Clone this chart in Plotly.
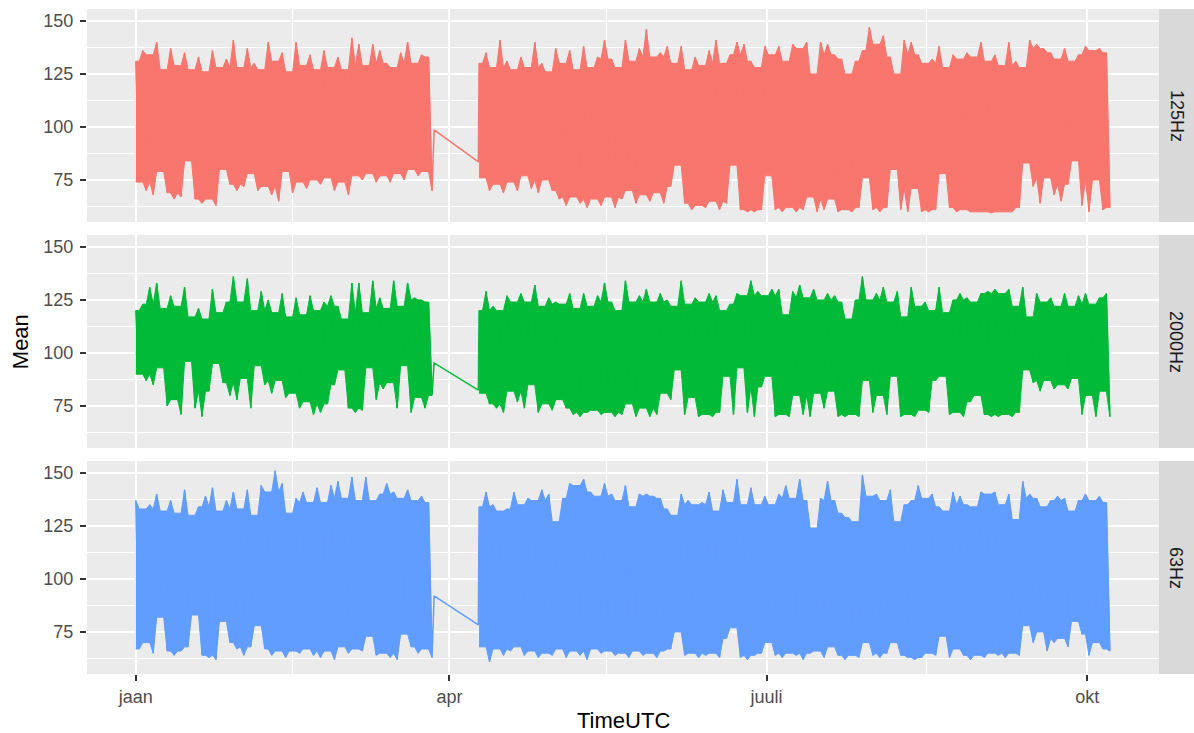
import numpy as np
import pandas as pd
import plotly.graph_objects as go

# ---------------- data ----------------
BASE_DATE = "2018-01-01"
SEG1_FIRST_DAY = 0.0      # first sample day of the first run
SEG2_FIRST_DAY = 98.5     # first sample day of the second run
SAMPLE_STEP = 2.0         # days between successive peak (or trough) samples
BRIDGE_DAYS = [85.6, 98.3]

panels = ["125Hz", "2000Hz", "63Hz"]
colors = ["#F8766D", "#00BA38", "#619CFF"]

tick_dates = ["2018-01-01", "2018-04-01", "2018-07-01", "2018-10-01"]
tick_text = ["jaan", "apr", "juuli", "okt"]
minor_dates = ["2018-02-15", "2018-05-16", "2018-08-16"]
y_ticks = [75, 100, 125, 150]
y_minor = [62.5, 87.5, 112.5, 137.5]

# 125Hz
hi_125_s1 = [131,136,134,140,127,137,129,135,127,133,126,136,128,132,141,128,137,130,127,140,
             131,135,126,140,129,134,127,136,128,133,127,142,139,129,139,136,130,128,135,140,
             130,134,133]
lo_125_s1 = [74,70,68,79,69,66,67,84,66,64,66,63,80,73,70,72,78,70,72,68,
             65,79,69,74,71,75,73,76,70,74,68,77,75,78,74,77,74,78,75,80,
             77,79,70]
hi_125_s2 = [130,135,128,141,131,127,133,128,140,130,126,137,130,136,127,138,128,133,141,132,
             128,141,131,137,146,133,135,138,130,138,127,133,129,136,141,130,134,140,139,131,
             128,138,134,138,131,139,137,140,125,140,139,134,132,125,131,136,147,139,143,133,
             125,141,140,134,130,132,138,128,134,132,135,133,140,131,134,129,140,131,128,141,
             139,137,135,132,137,131,134,138,136,137,135]
lo_125_s2 = [76,70,73,69,74,70,77,71,69,75,70,66,63,67,64,62,66,63,67,62,
             66,70,64,68,65,69,64,72,82,64,61,63,62,65,61,64,82,61,60,60,
             61,77,61,60,62,60,61,67,60,61,66,60,61,60,62,76,61,60,62,80,
             61,60,71,60,60,61,78,62,60,61,60,60,60,59.5,60,60,60,62,83,72,
             64,76,68,65,73,84,63,60,75,61,62]
bridge_125 = [98.6, 83.5]

# 2000Hz
hi_2000_s1 = [120,123,131,133,121,127,122,131,117,121,116,130,119,124,136,124,135,120,129,125,
              119,128,117,126,118,127,120,124,127,122,116,133,133,119,134,126,121,134,122,133,
              126,125,124]
lo_2000_s1 = [90,87,85,93,75,78,71,96,74,70,82,95,86,80,78,88,74,94,85,81,
              87,79,81,74,77,71,72,76,85,92,74,72,73,93,78,83,86,74,94,72,
              79,74,80]
hi_2000_s2 = [120,129,122,120,127,124,128,124,132,122,126,124,123,128,121,128,122,127,133,124,
              120,134,124,127,130,124,128,125,122,134,123,126,124,128,127,120,123,128,127,134,
              129,127,130,130,118,129,132,126,130,125,128,127,124,116,125,136,125,128,131,124,
              129,117,131,122,124,120,131,119,125,128,126,124,128,129,130,128,130,122,131,117,
              128,124,126,122,128,122,127,128,123,126,128]
lo_2000_s2 = [81,76,74,72,82,77,74,85,72,76,73,78,74,71,70,72,73,71,72,70,
              71,76,70,74,70,71,81,78,92,71,79,70,71,70,72,89,71,93,72,70,
              84,89,70,71,70,80,71,70,81,74,82,70,70,71,70,87,72,80,71,89,
              70,71,70,73,72,87,89,71,72,70,77,80,71,70,70,71,70,72,92,86,
              82,87,83,85,83,88,71,80,70,82,70]
bridge_2000 = [95.3, 82.5]

# 63Hz
hi_63_s1 = [137,133,135,140,132,137,131,142,130,134,139,143,132,137,141,133,142,130,144,141,
            151,145,131,138,141,136,143,136,144,146,138,148,137,148,137,140,145,141,138,142,
            137,139,136]
lo_63_s1 = [67,70,65,82,66,64,66,68,83,64,63,62,80,70,67,64,68,78,67,64,
            66,63,66,65,67,64,63,66,62,68,65,67,66,73,64,65,63,62,74,68,
            65,67,63]
hi_63_s2 = [134,141,135,132,133,141,135,138,137,142,140,127,138,145,144,147,141,139,145,140,
            137,144,134,140,140,139,138,133,130,140,137,135,136,141,132,142,136,147,135,143,
            135,139,135,140,144,138,147,137,124,138,146,137,131,129,127,149,139,140,137,142,
            127,135,137,144,138,140,134,132,141,139,135,134,141,140,141,135,140,128,146,140,
            138,134,137,139,138,132,137,140,137,139,136]
lo_63_s2 = [68,61,67,64,66,68,64,66,63,65,64,67,63,66,64,62,67,65,66,64,
            65,63,66,64,65,63,66,67,75,64,65,63,64,65,63,72,77,63,62,64,
            65,70,64,63,65,64,62,65,66,63,68,64,62,64,63,70,64,63,65,70,
            64,63,62,63,65,64,73,63,67,64,62,64,63,65,64,63,65,64,78,70,
            75,66,70,72,68,80,74,64,70,67,66]
bridge_63 = [92.0, 78.3]

# ---------------- helpers ----------------
base = pd.Timestamp(BASE_DATE)


def to_date(days):
    return [(base + pd.to_timedelta(float(d), unit="D")).strftime("%Y-%m-%d %H:%M:%S") for d in days]


def segment(first_day, hi, lo):
    n = min(len(hi), len(lo))
    hi, lo = hi[:n], lo[:n]
    hi_days = [first_day + SAMPLE_STEP * k for k in range(n)]
    lo_days = [d + SAMPLE_STEP / 2 for d in hi_days]
    # line through the samples (peak, trough, peak, ...)
    zz_days, zz_vals = [], []
    for a, b, c, d in zip(hi_days, hi, lo_days, lo):
        zz_days += [a, c]
        zz_vals += [b, d]
    # solid band: peaks on top, troughs below, with the inner level between them
    top_d, top_v = [], []
    for k in range(n):
        top_d.append(hi_days[k]); top_v.append(hi[k])
        if k < n - 1:
            w = sorted(hi[max(0, k - 1):k + 3])
            top_d.append(lo_days[k]); top_v.append(min(hi[k], hi[k + 1], w[1]))
    bot_d, bot_v = [hi_days[0]], [lo[0]]
    for k in range(n):
        if k > 0:
            w = sorted(lo[max(0, k - 2):k + 2], reverse=True)
            bot_d.append(hi_days[k]); bot_v.append(max(lo[k - 1], lo[k], w[1]))
        bot_d.append(lo_days[k]); bot_v.append(lo[k])
    poly_days = top_d + bot_d[::-1]
    poly_vals = top_v + bot_v[::-1]
    return zz_days, zz_vals, poly_days, poly_vals


series = [
    (hi_125_s1, lo_125_s1, hi_125_s2, lo_125_s2, bridge_125),
    (hi_2000_s1, lo_2000_s1, hi_2000_s2, lo_2000_s2, bridge_2000),
    (hi_63_s1, lo_63_s1, hi_63_s2, lo_63_s2, bridge_63),
]

# ---------------- figure ----------------
W, H = 1194, 733
ML, MR, MT, MB = 87, 35, 9, 59
plot_h = H - MT - MB
px_panels = [(9, 222), (235, 448), (461, 674)]
domains = [[(H - MB - b) / plot_h, (H - MB - t) / plot_h] for t, b in px_panels]
domains[0][1] = 1.0
domains[2][0] = 0.0

fig = go.Figure()
FONT = "Liberation Sans, Arial, sans-serif"

for i, (h1, l1, h2, l2, br) in enumerate(series):
    xa = "x" if i == 0 else f"x{i+1}"
    ya = "y" if i == 0 else f"y{i+1}"
    z1d, z1v, p1d, p1v = segment(SEG1_FIRST_DAY, h1, l1)
    z2d, z2v, p2d, p2v = segment(SEG2_FIRST_DAY, h2, l2)
    for pd_, pv in [(p1d, p1v), (p2d, p2v)]:
        fig.add_trace(go.Scatter(x=to_date(pd_), y=pv, mode="lines", fill="toself",
                                 fillcolor=colors[i], line=dict(width=1, color=colors[i]),
                                 hoverinfo="skip", showlegend=False, xaxis=xa, yaxis=ya))
    days = z1d + BRIDGE_DAYS + z2d
    vals = z1v + br + z2v
    fig.add_trace(go.Scatter(x=to_date(days), y=vals, mode="lines",
                             line=dict(color=colors[i], width=1.5),
                             name=panels[i], showlegend=False, xaxis=xa, yaxis=ya))

x_range = to_date([-14.0, 293.6])
y_range = [55.2, 155.6]

axis_common_x = dict(type="date", range=x_range, showgrid=True, gridcolor="white", gridwidth=2,
                     tickmode="array", tickvals=tick_dates, ticktext=tick_text,
                     minor=dict(tickmode="array", tickvals=minor_dates, showgrid=True,
                                gridcolor="white", gridwidth=1, ticks=""),
                     zeroline=False, showline=False, domain=[0, 1])
axis_common_y = dict(range=y_range, showgrid=True, gridcolor="white", gridwidth=2,
                     tickmode="array", tickvals=y_ticks,
                     minor=dict(tickmode="array", tickvals=y_minor, showgrid=True,
                                gridcolor="white", gridwidth=1, ticks=""),
                     zeroline=False, showline=False, ticks="outside", ticklen=6,
                     tickwidth=1.5, tickcolor="#333333",
                     tickfont=dict(family=FONT, size=18, color="#4D4D4D"),
                     ticklabelstandoff=3)

layout = dict(width=W, height=H, margin=dict(l=ML, r=MR, t=MT, b=MB),
              plot_bgcolor="#EBEBEB", paper_bgcolor="white",
              font=dict(family=FONT), showlegend=False)
for i in range(3):
    xk = "xaxis" if i == 0 else f"xaxis{i+1}"
    yk = "yaxis" if i == 0 else f"yaxis{i+1}"
    xa = dict(axis_common_x)
    xa["anchor"] = "y" if i == 0 else f"y{i+1}"
    if i < 2:
        xa.update(showticklabels=False, ticks="", matches="x3")
    else:
        xa.update(ticks="outside", ticklen=6, tickwidth=1.5, tickcolor="#333333",
                  tickfont=dict(family=FONT, size=18, color="#4D4D4D"))
    ya = dict(axis_common_y)
    ya["anchor"] = "x" if i == 0 else f"x{i+1}"
    ya["domain"] = domains[i]
    layout[xk] = xa
    layout[yk] = ya

plot_w = W - ML - MR
shapes, annotations = [], []
for i, (d0, d1) in enumerate(domains):
    shapes.append(dict(type="rect", xref="paper", yref="paper",
                       x0=1.0, x1=(W - ML) / plot_w, y0=d0, y1=d1,
                       fillcolor="#D9D9D9", line=dict(width=0), layer="below"))
    annotations.append(dict(text=panels[i], xref="paper", yref="paper",
                            x=(1176.5 - ML) / plot_w, y=(d0 + d1) / 2, textangle=90,
                            showarrow=False, xanchor="center", yanchor="middle",
                            font=dict(family=FONT, size=18, color="#1A1A1A")))
annotations.append(dict(text="TimeUTC", xref="paper", yref="paper", x=0.5,
                        y=(H - MB - 720) / plot_h, showarrow=False, xanchor="center",
                        yanchor="middle", font=dict(family=FONT, size=22, color="black")))
annotations.append(dict(text="Mean", xref="paper", yref="paper", x=(20.7 - ML) / plot_w,
                        y=(H - MB - 341.5) / plot_h, showarrow=False, textangle=-90,
                        xanchor="center", yanchor="middle",
                        font=dict(family=FONT, size=22, color="black")))
layout["shapes"] = shapes
layout["annotations"] = annotations

fig.update_layout(**layout)
fig.write_html("out.html", config={"displayModeBar": False},
               post_script="document.body.style.margin='0';document.body.style.overflow='hidden';")
